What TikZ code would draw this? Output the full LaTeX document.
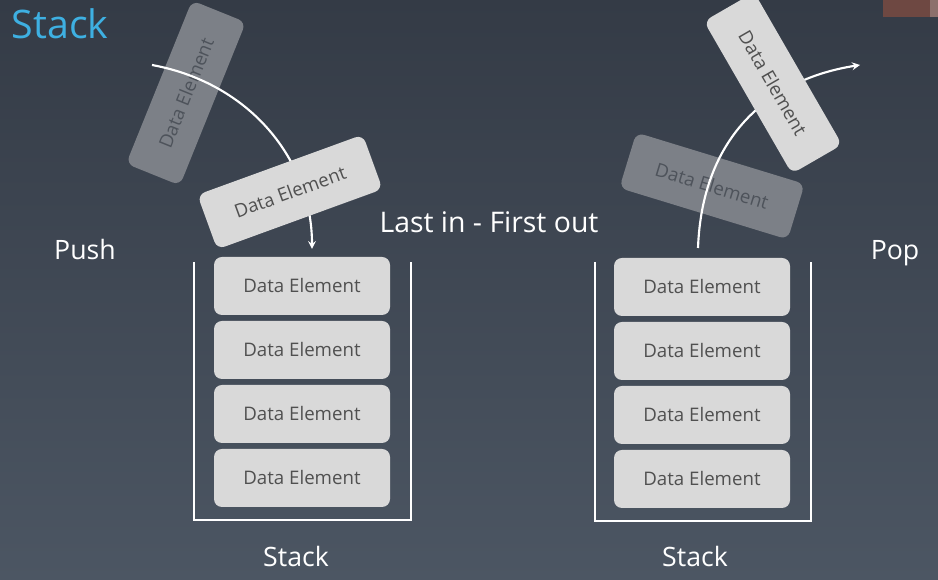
\documentclass[tikz,border=0pt]{standalone}
\usepackage{fontspec}
\setmainfont{Open Sans}
\usetikzlibrary{calc}

\definecolor{bgtop}{RGB}{52,59,70}
\definecolor{bgbottom}{RGB}{76,86,99}
\definecolor{boxgray}{RGB}{217,217,217}
\definecolor{textgray}{RGB}{80,80,80}
\definecolor{ghostgray}{RGB}{124,128,135}
\definecolor{ghosttext}{RGB}{78,83,91}
\definecolor{titleblue}{RGB}{62,176,226}
\definecolor{capred}{RGB}{110,72,66}
\definecolor{capredlight}{RGB}{140,112,108}

\tikzset{
  elem/.style={rounded corners=6pt, fill=boxgray, text=textgray,
    minimum width=132pt, minimum height=43.5pt,
    font=\fontsize{14}{16}\selectfont},
  ghost/.style={elem, fill=ghostgray, text=ghosttext},
  wall/.style={white, line width=1.6pt},
  flow/.style={white, line width=1.6pt, ->},
  label/.style={white, font=\fontsize{20}{24}\selectfont}
}

\begin{document}
\begin{tikzpicture}[x=0.75pt, y=0.75pt, >=stealth]

% Background
\shade[top color=bgtop, bottom color=bgbottom] (0,0) rectangle (938,580);
\useasboundingbox (0,0) rectangle (938,580);
\fill[capred] (883,563) rectangle (930,580);
\fill[capredlight] (930,563) rectangle (938,580);

% Title
\node[anchor=west, text=titleblue, font=\fontsize{29.5}{34}\selectfont] (title) at (7,556) {Stack};

% Left stack (push)
\draw[wall] (194,318) -- (194,60) -- (411,60) -- (411,318);
\foreach \i in {1,...,4}
  \node[elem] (l\i) at (302,{294-64*(\i-1)}) {Data Element};
\node[label] (lstack) at (296,23) {Stack};

% Right stack (pop)
\draw[wall] (595,318) -- (595,59) -- (811,59) -- (811,318);
\foreach \i in {1,...,4}
  \node[elem] (r\i) at (702,{293-64*(\i-1)}) {Data Element};
\node[label] (rstack) at (695,23) {Stack};

% Faded elements
\node[ghost, rotate=68] (ghostpush) at (186,487) {Data Element};
\node[ghost, rotate=-17] (ghostpop) at (712,394) {Data Element};

% Push arrow
\coordinate (pushstart) at (152,515);
\coordinate (pushend) at (312,331);
\draw[flow] (pushstart) .. controls (250,497) and (312,420) .. (pushend);

% Pop arrow
\coordinate (popstart) at (698,332);
\coordinate (popend) at (860,515);
\draw[flow] (popstart) .. controls (702,440) and (765,500) .. (popend);

% Moving elements
\node[elem, rotate=20] (pushbox) at (290,388) {Data Element};
\node[elem, rotate=-60] (popbox) at (773,497) {Data Element};

% Labels
\node[label] (push) at (85,330) {Push};
\node[label] (pop) at (895,327) {Pop};
\node[label, font=\fontsize{21.3}{24}\selectfont] (lifo) at (489,358) {Last in - First out};

\end{tikzpicture}
\end{document}
